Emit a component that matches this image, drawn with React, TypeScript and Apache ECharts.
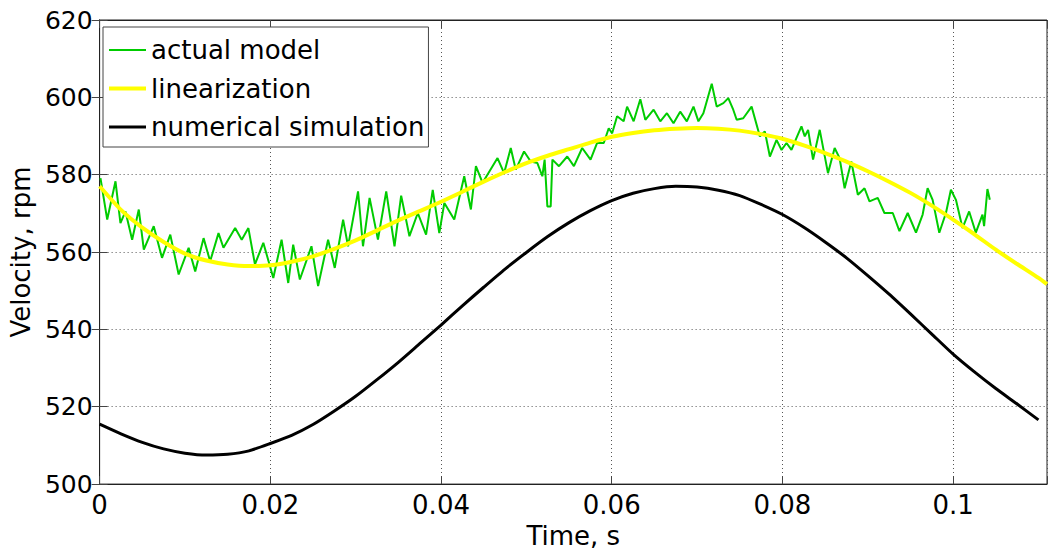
import React, { useEffect, useRef } from "react";
import * as echarts from "echarts";

const FONT = "DejaVu Sans";

// numerical simulation (black)
const simTime = [0, 0.0025, 0.005, 0.0075, 0.01, 0.0125, 0.015, 0.0175, 0.02, 0.0225, 0.025, 0.0275, 0.03, 0.0325, 0.035, 0.0375, 0.04, 0.0425, 0.045, 0.0475, 0.05, 0.0525, 0.055, 0.0575, 0.06, 0.0625, 0.065, 0.0675, 0.07, 0.0725, 0.075, 0.0775, 0.08, 0.0825, 0.085, 0.0875, 0.09, 0.0925, 0.095, 0.0975, 0.1, 0.1025, 0.105, 0.1075, 0.11];
const simVel = [515.5, 513.0, 510.8, 509.1, 508.0, 507.5, 507.7, 508.6, 510.5, 512.6, 515.4, 518.9, 522.7, 527.0, 531.5, 536.3, 541.1, 546.1, 550.9, 555.6, 559.9, 564.0, 567.6, 570.7, 573.3, 575.2, 576.4, 577.0, 576.8, 576.0, 574.6, 572.3, 569.7, 566.4, 562.6, 558.5, 553.9, 549.1, 544.0, 538.8, 533.6, 529.0, 524.7, 520.7, 516.6];

// linearization (yellow)
const linTime = [0, 0.0025, 0.005, 0.0075, 0.01, 0.0125, 0.015, 0.0175, 0.02, 0.0225, 0.025, 0.0275, 0.03, 0.0325, 0.035, 0.0375, 0.04, 0.0425, 0.045, 0.0475, 0.05, 0.0525, 0.055, 0.0575, 0.06, 0.0625, 0.065, 0.0675, 0.07, 0.0725, 0.075, 0.0775, 0.08, 0.0825, 0.085, 0.0875, 0.09, 0.0925, 0.095, 0.0975, 0.1, 0.1025, 0.105, 0.1075, 0.11, 0.111];
const linVel = [577.0, 570.9, 566.3, 562.6, 559.6, 557.8, 556.8, 556.4, 556.6, 557.5, 558.9, 560.8, 563.0, 565.6, 568.2, 570.6, 573.0, 575.6, 578.2, 580.7, 583.0, 584.9, 586.6, 588.3, 589.8, 590.8, 591.5, 591.9, 592.1, 591.9, 591.4, 590.5, 589.3, 587.6, 585.6, 583.4, 580.9, 578.2, 575.3, 572.0, 568.4, 564.6, 560.6, 556.9, 553.3, 551.7];

// actual model (green)
const actTime = [0.0001, 0.00089, 0.00186, 0.00244, 0.00303, 0.00381, 0.00459, 0.00518, 0.00634, 0.00731, 0.00828, 0.00926, 0.01043, 0.0112, 0.01218, 0.01295, 0.01393, 0.01451, 0.01588, 0.01665, 0.01743, 0.0182, 0.01918, 0.02035, 0.02132, 0.0221, 0.02268, 0.02346, 0.02482, 0.0256, 0.02677, 0.02755, 0.02853, 0.02911, 0.03028, 0.03086, 0.03163, 0.03261, 0.03358, 0.03455, 0.03533, 0.0363, 0.03728, 0.03825, 0.03903, 0.0398, 0.04039, 0.04155, 0.04272, 0.0435, 0.04409, 0.04487, 0.04662, 0.04739, 0.04817, 0.04876, 0.04973, 0.05051, 0.05129, 0.05187, 0.05214, 0.05246, 0.05285, 0.05305, 0.05382, 0.05479, 0.05557, 0.05654, 0.05752, 0.05829, 0.05907, 0.05965, 0.06005, 0.06063, 0.0614, 0.0618, 0.06257, 0.06335, 0.06394, 0.06491, 0.06569, 0.06647, 0.06724, 0.06802, 0.0688, 0.06958, 0.07016, 0.07074, 0.07172, 0.0723, 0.07308, 0.07366, 0.07424, 0.07464, 0.07541, 0.07639, 0.07736, 0.07794, 0.07853, 0.07931, 0.0799, 0.08048, 0.08106, 0.08165, 0.08223, 0.08262, 0.08301, 0.08359, 0.08437, 0.08534, 0.08612, 0.0867, 0.08729, 0.08807, 0.08884, 0.08962, 0.0902, 0.09117, 0.09195, 0.09293, 0.09371, 0.09468, 0.09565, 0.09643, 0.09701, 0.0976, 0.09838, 0.09916, 0.09974, 0.10033, 0.1011, 0.10188, 0.10266, 0.10344, 0.10363, 0.10402, 0.1043];
const actVel = [579.1, 568.4, 578.3, 567.5, 570.5, 563.2, 571.0, 560.6, 566.7, 558.5, 564.5, 554.2, 561.1, 555.0, 563.6, 557.6, 564.9, 561.1, 566.2, 563.2, 566.2, 556.8, 562.4, 553.3, 563.2, 552.0, 561.9, 552.9, 561.5, 551.2, 563.2, 555.9, 568.4, 561.5, 575.7, 561.5, 574.0, 563.2, 575.7, 561.5, 574.6, 564.1, 570.1, 564.5, 576.1, 564.9, 572.7, 568.4, 579.6, 571.0, 582.2, 577.9, 584.3, 580.4, 586.9, 581.3, 586.0, 583.4, 583.0, 579.6, 583.9, 571.8, 571.8, 583.9, 582.2, 584.7, 582.2, 586.9, 583.9, 588.2, 588.2, 592.0, 590.7, 595.1, 593.8, 597.6, 593.8, 599.5, 594.2, 596.8, 593.8, 595.9, 593.3, 596.3, 593.8, 597.6, 593.8, 595.9, 603.5, 597.6, 598.5, 599.8, 596.8, 594.2, 594.6, 597.6, 589.9, 591.2, 584.7, 589.0, 586.4, 588.2, 586.4, 589.5, 592.5, 589.9, 591.6, 583.9, 591.6, 580.4, 586.9, 584.3, 576.5, 583.4, 574.8, 576.5, 573.1, 574.0, 570.1, 570.1, 565.4, 570.1, 565.0, 569.7, 576.5, 573.5, 565.0, 570.1, 576.1, 573.5, 566.2, 570.5, 565.0, 569.7, 566.7, 576.3, 573.5];

const seriesNames = ["actual model", "linearization", "numerical simulation"];
const seriesColors = ["#00CC00", "#FFFF00", "#000000"];
const legendIcons = [
  "path://M0,0 M0,6 L37,6 L37,8 L0,8 Z M37,14",
  "path://M0,0 M0,5 L37,5 L37,9 L0,9 Z M37,14",
  "path://M0,0 M0,5.5 L37,5.5 L37,8.5 L0,8.5 Z M37,14",
];

const zip = (xs: number[], ys: number[]) => xs.map((x, i) => [x, ys[i]]);

const gridLine = { show: true, lineStyle: { color: "#555", type: [1, 3] as any, width: 1 } };

export default function App() {
  const ref = useRef<HTMLDivElement>(null);
  useEffect(() => {
    if (!ref.current) return;
    const chart = echarts.init(ref.current, undefined, { renderer: "svg" });
    const xFmt = (v: number) => {
      const k = v / 0.02;
      if (Math.abs(k - Math.round(k)) > 1e-6) return "";
      return String(parseFloat(v.toFixed(2)));
    };
    chart.setOption({
      animation: false,
      backgroundColor: "#fff",
      grid: { left: 97, right: 1, top: 20, bottom: 69, show: true, borderColor: "#222", borderWidth: 1, backgroundColor: "transparent" },
      legend: {
        show: true,
        data: seriesNames.map((n, i) => ({ name: n, icon: legendIcons[i], itemStyle: { color: seriesColors[i] } })),
        orient: "vertical",
        left: 103,
        top: 27,
        itemWidth: 37,
        itemHeight: 14,
        itemGap: 10.5,
        symbolKeepAspect: false,
        padding: [9, 4, 6, 6],
        backgroundColor: "#fff",
        borderColor: "#444",
        borderWidth: 1,
        borderRadius: 0,
        textStyle: { fontFamily: FONT, fontSize: 26, color: "#000", lineHeight: 28 },
      },
      xAxis: [
        {
          type: "value",
          min: 0,
          max: 0.111,
          interval: 0.02,
          name: "Time, s",
          nameLocation: "middle",
          nameGap: 37,
          nameTextStyle: { fontFamily: FONT, fontSize: 26, color: "#000" },
          axisLine: { show: true, lineStyle: { color: "#222", width: 1 } },
          axisTick: { show: true, inside: true, length: 8, lineStyle: { color: "#444" } },
          axisLabel: { fontFamily: FONT, fontSize: 26, color: "#000", margin: 8, formatter: xFmt },
          splitLine: gridLine,
        },
        {
          type: "value",
          position: "top",
          min: 0,
          max: 0.111,
          interval: 0.02,
          axisLine: { show: true, lineStyle: { color: "#222", width: 1 } },
          axisTick: { show: true, inside: true, length: 8, lineStyle: { color: "#444" } },
          axisLabel: { show: false },
          splitLine: { show: false },
        },
      ],
      yAxis: [
        {
          type: "value",
          min: 500,
          max: 620,
          interval: 20,
          name: "Velocity, rpm",
          nameLocation: "middle",
          nameGap: 57,
          nameTextStyle: { fontFamily: FONT, fontSize: 26, color: "#000" },
          axisLine: { show: true, lineStyle: { color: "#222", width: 1 } },
          axisTick: { show: true, inside: true, length: 8, lineStyle: { color: "#444" } },
          axisLabel: { fontFamily: FONT, fontSize: 25, color: "#000", margin: 7 },
          splitLine: gridLine,
        },
        {
          type: "value",
          position: "right",
          min: 500,
          max: 620,
          interval: 20,
          axisLine: { show: true, lineStyle: { color: "#222", width: 1 } },
          axisTick: { show: true, inside: true, length: 8, lineStyle: { color: "#444" } },
          axisLabel: { show: false },
          splitLine: { show: false },
        },
      ],
      series: [
        {
          name: seriesNames[0],
          type: "line",
          data: zip(actTime, actVel),
          symbol: "none",
          smooth: false,
          lineStyle: { color: seriesColors[0], width: 2 },
          itemStyle: { color: seriesColors[0] },
        },
        {
          name: seriesNames[1],
          type: "line",
          data: zip(linTime, linVel),
          symbol: "none",
          smooth: 0.2,
          lineStyle: { color: seriesColors[1], width: 4 },
          itemStyle: { color: seriesColors[1] },
        },
        {
          name: seriesNames[2],
          type: "line",
          data: zip(simTime, simVel),
          symbol: "none",
          smooth: 0.2,
          lineStyle: { color: seriesColors[2], width: 3 },
          itemStyle: { color: seriesColors[2] },
        },
      ],
    });
    return () => chart.dispose();
  }, []);
  return <div ref={ref} style={{ position: "fixed", left: 0, top: 0, width: 1050, height: 554 }} />;
}
